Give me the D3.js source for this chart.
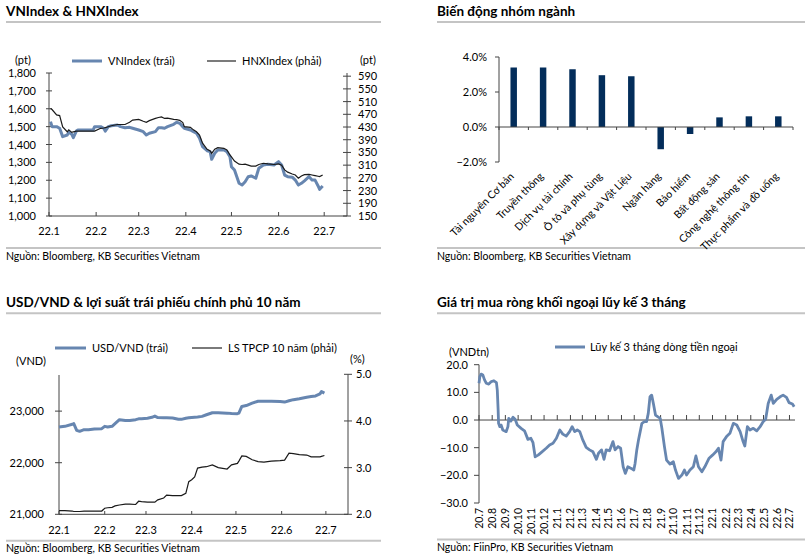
<!DOCTYPE html>
<html><head><meta charset="utf-8">
<script src="https://cdn.jsdelivr.net/npm/d3@7"></script>
<style>
body{margin:0;background:#fff;}
svg{display:block;}
</style></head><body>
<svg id="c" width="805" height="558"></svg>
<script>
// ---------- Panel 1: VNIndex & HNXIndex ----------
const idxDates = ["2022-01-02","2022-01-03","2022-01-06","2022-01-08","2022-01-10","2022-01-13","2022-01-14","2022-01-16","2022-01-17","2022-01-19","2022-01-20","2022-01-30","2022-01-31","2022-02-04","2022-02-06","2022-02-07","2022-02-09","2022-02-11","2022-02-15","2022-02-17","2022-02-20","2022-02-23","2022-02-25","2022-03-01","2022-03-04","2022-03-06","2022-03-08","2022-03-12","2022-03-14","2022-03-16","2022-03-18","2022-03-20","2022-03-24","2022-03-26","2022-03-28","2022-03-30","2022-03-31","2022-04-04","2022-04-06","2022-04-08","2022-04-10","2022-04-12","2022-04-15","2022-04-17","2022-04-18","2022-04-20","2022-04-22","2022-04-26","2022-04-28","2022-04-30","2022-05-01","2022-05-03","2022-05-06","2022-05-08","2022-05-10","2022-05-12","2022-05-14","2022-05-17","2022-05-19","2022-05-22","2022-05-25","2022-05-29","2022-06-01","2022-06-03","2022-06-05","2022-06-07","2022-06-10","2022-06-12","2022-06-14","2022-06-16","2022-06-18","2022-06-21","2022-06-23","2022-06-25","2022-06-27","2022-06-28","2022-06-30"];
const vnIndex = [1528,1500,1500,1491,1444,1453,1468,1457,1438,1475,1481,1481,1500,1500,1491,1475,1500,1505,1509,1500,1494,1496,1491,1481,1472,1453,1463,1472,1494,1494,1491,1500,1513,1524,1519,1500,1491,1481,1472,1463,1435,1388,1365,1360,1317,1351,1369,1369,1360,1332,1276,1257,1183,1173,1192,1220,1224,1211,1267,1285,1289,1285,1304,1285,1229,1220,1217,1201,1173,1183,1197,1220,1201,1201,1168,1149,1168];
const hnxIndex = [488,485,468,466,430,415,421,413,415,417,417,417,417,426,427,428,431,434,438,438,438,445,452,454,448,445,450,457,460,462,457,458,454,453,451,444,431,429,421,415,405,379,360,355,347,360,365,363,358,342,336,323,313,312,313,310,307,307,312,316,314,312,314,310,295,288,282,279,269,276,280,281,279,277,275,274,279];
const idxMonthLabels = ["22.1","22.2","22.3","22.4","22.5","22.6","22.7"];
const vnTicks = [1000,1100,1200,1300,1400,1500,1600,1700,1800];
const hnxTicks = [150,190,230,270,310,350,390,430,470,510,550,590];

// ---------- Panel 2: sector performance ----------
const sectors = ["Tài nguyên Cơ bản","Truyền thông","Dịch vụ tài chính","Ô tô và phụ tùng","Xây dựng và Vật Liệu","Ngân hàng","Bảo hiểm","Bất động sản","Công nghệ thông tin","Thực phẩm và đồ uống"];
const sectorChange = [3.4,3.4,3.3,2.96,2.9,-1.27,-0.4,0.55,0.61,0.61];
const sectorTicks = [-2,0,2,4];

// ---------- Panel 3: USD/VND & 10Y yield ----------
const fxDates = ["2022-01-01","2022-01-05","2022-01-10","2022-01-11","2022-01-13","2022-01-15","2022-01-18","2022-01-21","2022-01-25","2022-01-30","2022-02-01","2022-02-03","2022-02-06","2022-02-08","2022-02-11","2022-02-15","2022-02-18","2022-02-22","2022-02-24","2022-02-26","2022-03-02","2022-03-05","2022-03-07","2022-03-09","2022-03-13","2022-03-15","2022-03-19","2022-03-23","2022-03-25","2022-03-28","2022-03-30","2022-04-01","2022-04-03","2022-04-05","2022-04-08","2022-04-11","2022-04-15","2022-04-19","2022-04-25","2022-04-28","2022-05-02","2022-05-03","2022-05-05","2022-05-08","2022-05-12","2022-05-16","2022-05-20","2022-05-25","2022-05-31","2022-06-03","2022-06-06","2022-06-09","2022-06-13","2022-06-18","2022-06-21","2022-06-24","2022-06-27","2022-06-28","2022-06-30"];
const usdVnd = [22691,22705,22745,22757,22627,22608,22641,22641,22653,22660,22705,22691,22705,22757,22834,22820,22820,22834,22850,22853,22863,22880,22903,22875,22872,22870,22866,22842,22840,22862,22870,22878,22882,22886,22898,22930,22969,22969,22961,22955,22950,22961,23090,23108,23155,23192,23193,23190,23185,23175,23200,23222,23239,23270,23282,23295,23335,23380,23348];
const bondYield = [2.08,2.08,2.07,2.06,2.06,2.06,2.07,2.07,2.07,2.07,2.13,2.14,2.15,2.18,2.20,2.22,2.22,2.21,2.28,2.27,2.26,2.26,2.26,2.31,2.35,2.41,2.40,2.40,2.40,2.45,2.70,2.74,2.80,2.99,3.01,3.02,3.06,3.00,2.97,3.06,3.09,3.14,3.25,3.24,3.17,3.13,3.12,3.14,3.15,3.16,3.31,3.30,3.28,3.27,3.23,3.23,3.23,3.24,3.26];
const fxMonthLabels = ["22.1","22.2","22.3","22.4","22.5","22.6","22.7"];
const usdTicks = [21000,22000,23000];
const yieldTicks = [2.0,3.0,4.0,5.0];

// ---------- Panel 4: foreign net buying, 3-month cumulative ----------
const flowDates = ["2020-07-01","2020-07-03","2020-07-06","2020-07-10","2020-07-14","2020-07-18","2020-07-24","2020-07-30","2020-08-05","2020-08-11","2020-08-13","2020-08-15","2020-08-16","2020-08-19","2020-08-22","2020-08-26","2020-09-03","2020-09-07","2020-09-09","2020-09-14","2020-09-19","2020-09-24","2020-09-29","2020-10-08","2020-10-16","2020-10-24","2020-10-31","2020-11-05","2020-11-10","2020-11-17","2020-11-24","2020-12-06","2020-12-14","2020-12-22","2020-12-30","2021-01-07","2021-01-14","2021-01-22","2021-01-30","2021-02-05","2021-02-11","2021-02-17","2021-02-23","2021-03-02","2021-03-10","2021-03-18","2021-03-26","2021-04-03","2021-04-08","2021-04-15","2021-04-21","2021-04-26","2021-05-04","2021-05-12","2021-05-17","2021-05-24","2021-05-30","2021-06-05","2021-06-10","2021-06-16","2021-06-24","2021-06-30","2021-07-03","2021-07-07","2021-07-11","2021-07-15","2021-07-19","2021-07-25","2021-07-30","2021-08-03","2021-08-07","2021-08-11","2021-08-15","2021-08-20","2021-08-25","2021-08-31","2021-09-04","2021-09-10","2021-09-15","2021-09-23","2021-10-01","2021-10-06","2021-10-13","2021-10-21","2021-10-27","2021-11-01","2021-11-09","2021-11-17","2021-11-23","2021-11-29","2021-12-07","2021-12-14","2021-12-24","2022-01-01","2022-01-09","2022-01-15","2022-01-21","2022-01-26","2022-02-03","2022-02-11","2022-02-19","2022-02-27","2022-03-07","2022-03-14","2022-03-18","2022-03-24","2022-03-30","2022-04-07","2022-04-15","2022-04-23","2022-04-30","2022-05-06","2022-05-12","2022-05-19","2022-05-24","2022-06-01","2022-06-09","2022-06-16","2022-06-24","2022-06-30","2022-07-08","2022-07-12"];
const foreignFlow = [13.3,15.7,16.6,16.3,14.5,13.3,13.0,13.9,14.2,13.5,10.8,3.6,-1.2,-2.4,-1.8,-3.6,-4.2,-2.4,0.6,-0.4,1.0,0.3,-1.8,-3.0,-3.9,-7.0,-6.6,-8.2,-13.3,-12.7,-11.8,-10.2,-9.0,-8.4,-6.6,-3.6,-5.1,-5.8,-4.2,-2.4,-4.2,-3.6,-4.2,-7.2,-9.9,-10.8,-11.5,-14.2,-12.0,-10.8,-14.2,-10.8,-11.1,-7.8,-10.8,-9.6,-10.2,-16.9,-19.3,-16.9,-17.5,-18.1,-15.7,-10.8,-7.2,-4.2,-1.2,-0.6,-0.6,2.4,8.4,9.0,6.0,1.8,1.2,0.6,-3.0,-9.6,-14.5,-15.9,-15.1,-18.1,-21.1,-19.9,-18.1,-19.9,-18.1,-16.9,-13.0,-16.9,-18.7,-16.9,-13.8,-12.7,-11.5,-10.2,-14.5,-7.8,-6.0,-4.8,-1.2,-1.8,-4.2,-7.8,-9.4,-2.4,-3.6,-3.0,-3.9,-2.4,-0.6,0.3,6.0,9.0,6.0,7.5,8.4,9.0,8.2,6.3,5.8,4.8];
const flowMonthLabels = ["20.7","20.8","20.9","20.10","20.11","20.12","21.1","21.2","21.3","21.4","21.5","21.6","21.7","21.8","21.9","21.10","21.11","21.12","22.1","22.2","22.3","22.4","22.5","22.6","22.7"];
const flowTicks = [-30,-20,-10,0,10,20];

// ---------- styling ----------
const FONT = "Lato, 'Open Sans', sans-serif";
const BLUE = "#6786b0";
const NAVY = "#032d5a";
const RULE = "#c4c4c4";
const AXIS = "#444";

const svg = d3.select("#c").style("font-family", FONT);
const parseDay = d3.timeParse("%Y-%m-%d");
const parseMonth = d3.timeParse("%y.%m");

function txt(x, y, s, o = {}) {
  return svg.append("text").attr("x", x).attr("y", y).text(s)
    .attr("font-size", o.size || 10.5)
    .attr("font-weight", o.bold ? "bold" : null)
    .attr("text-anchor", o.anchor || "start")
    .attr("fill", o.fill || "#000");
}
function line(x1, y1, x2, y2, c = AXIS, w = 1) {
  svg.append("line").attr("x1", x1).attr("y1", y1).attr("x2", x2).attr("y2", y2)
    .attr("stroke", c).attr("stroke-width", w);
}
function frame(x0, x1, yTitle, yRule, yBottom, ySource, title, source) {
  txt(x0, yTitle, title, {size: 13.5, bold: true});
  line(x0, yRule, x1, yRule, RULE, 2);
  line(x0, yBottom, x1, yBottom, RULE, 2);
  txt(x0, ySource, source, {size: 10.5});
}

// ================= Panel 1 =================
frame(6, 381, 16, 22, 248, 260, "VNIndex & HNXIndex", "Nguồn: Bloomberg, KB Securities Vietnam");
{
  const x = d3.scaleTime().domain([new Date(2022,0,1), new Date(2022,6,16)]).range([49, 347]);
  const yL = d3.scaleLinear().domain([1000, 1800]).range([216, 73]);
  const yR = d3.scaleLinear().domain([150, 600]).range([216, 73]);
  const [x0, x1] = x.range();
  line(x0, 73, x0, 216); line(x1, 73, x1, 216); line(x0, 216, x1, 216);
  vnTicks.forEach(v => { line(x0 - 3, yL(v), x0 + 3, yL(v)); txt(x0 - 13, yL(v) + 4, d3.format(",")(v), {anchor: "end", size: 11}); });
  hnxTicks.forEach(v => { line(x1 - 4, yR(v), x1 + 4, yR(v)); txt(x1 + 11, yR(v) + 4, v, {size: 11}); });
  idxMonthLabels.forEach(s => { const px = x(parseMonth(s)); line(px, 212, px, 216); txt(px, 235, s, {anchor: "middle", size: 11}); });
  txt(15, 64, "(pt)", {size: 11}); txt(360, 64, "(pt)", {size: 11});
  line(72, 61, 102, 61, BLUE, 3); txt(108, 65, "VNIndex (trái)", {size: 11});
  line(207, 61, 236, 61, "#222", 1.2); txt(242, 65, "HNXIndex (phải)", {size: 11});
  const data = idxDates.map((d, i) => ({d: parseDay(d), vn: vnIndex[i], hnx: hnxIndex[i]}));
  svg.append("path").datum(data).attr("fill", "none").attr("stroke", BLUE).attr("stroke-width", 3).attr("stroke-linejoin", "round")
    .attr("d", d3.line().x(d => x(d.d)).y(d => yL(d.vn)));
  svg.append("path").datum(data).attr("fill", "none").attr("stroke", "#1a1a1a").attr("stroke-width", 1.2)
    .attr("d", d3.line().x(d => x(d.d)).y(d => yR(d.hnx)));
}

// ================= Panel 2 =================
frame(437, 805, 16, 22, 248, 259.5, "Biến động nhóm ngành", "Nguồn: Bloomberg, KB Securities Vietnam");
{
  const x = d3.scaleBand().domain(sectors).range([499, 793]).paddingInner(0.78).paddingOuter(0.39);
  const y = d3.scaleLinear().domain([-2, 4]).range([162, 57]);
  line(499, y(4), 499, y(-2));
  sectorTicks.forEach(v => { line(495, y(v), 499, y(v)); txt(487, y(v) + 4, d3.format(".1f")(v) + "%", {anchor: "end", size: 11}); });
  svg.selectAll("rect.bar").data(sectors).join("rect").attr("class", "bar")
    .attr("x", d => x(d)).attr("width", x.bandwidth())
    .attr("y", (d, i) => y(Math.max(0, sectorChange[i])))
    .attr("height", (d, i) => Math.abs(y(sectorChange[i]) - y(0)))
    .attr("fill", NAVY);
  line(499, y(0), 793, y(0));
  d3.range(sectors.length + 1).forEach(i => { const px = x.range()[0] + i * x.step(); line(px, y(0), px, y(0) + 3); });
  sectors.forEach(s => {
    const cx = x(s) + x.bandwidth() / 2 + 1;
    svg.append("text").attr("transform", `translate(${cx},${177}) rotate(-45)`)
      .attr("text-anchor", "end").attr("font-size", 10.5).text(s);
  });
}

// ================= Panel 3 =================
frame(6, 381, 306.5, 313.3, 540.7, 551.5, "USD/VND & lợi suất trái phiếu chính phủ 10 năm", "Nguồn: Bloomberg, KB Securities Vietnam");
{
  const x = d3.scaleTime().domain([new Date(2022,0,1), new Date(2022,6,16)]).range([59, 348]);
  const yL = d3.scaleLinear().domain([21000, 23700]).range([514.3, 375]);
  const yR = d3.scaleLinear().domain([2, 5]).range([514.3, 374.3]);
  const [x0, x1] = x.range();
  line(x0, 375, x0, 514.3); line(x1, 374.3, x1, 514.3); line(x0, 514.3, x1, 514.3);
  usdTicks.forEach(v => { line(x0 - 4, yL(v), x0 + 3, yL(v)); txt(x0 - 15, yL(v) + 4, d3.format(",")(v), {anchor: "end", size: 11}); });
  yieldTicks.forEach(v => { line(x1 - 4, yR(v), x1 + 4, yR(v)); txt(x1 + 8, yR(v) + 4, d3.format(".1f")(v), {size: 11}); });
  fxMonthLabels.forEach(s => { const px = x(parseMonth(s)); line(px, 511, px, 514.3); txt(px, 534, s, {anchor: "middle", size: 11}); });
  txt(16, 365, "(VND)", {size: 11}); txt(350, 363, "(%)", {size: 11});
  line(55, 348, 86, 348, BLUE, 3); txt(92, 352, "USD/VND (trái)", {size: 11});
  line(192, 348, 222, 348, "#222", 1.2); txt(228, 352, "LS TPCP 10 năm (phải)", {size: 11});
  const data = fxDates.map((d, i) => ({d: parseDay(d), u: usdVnd[i], r: bondYield[i]}));
  svg.append("path").datum(data).attr("fill", "none").attr("stroke", BLUE).attr("stroke-width", 3).attr("stroke-linejoin", "round")
    .attr("d", d3.line().x(d => x(d.d)).y(d => yL(d.u)));
  svg.append("path").datum(data).attr("fill", "none").attr("stroke", "#1a1a1a").attr("stroke-width", 1.2)
    .attr("d", d3.line().x(d => x(d.d)).y(d => yR(d.r)));
}

// ================= Panel 4 =================
frame(437, 805, 306.5, 313.3, 539.5, 550.5, "Giá trị mua ròng khối ngoại lũy kế 3 tháng", "Nguồn: FiinPro, KB Securities Vietnam");
{
  const x = d3.scaleTime().domain([new Date(2020,6,1), new Date(2022,6,14)]).range([479, 795]);
  const y = d3.scaleLinear().domain([-30, 20]).range([503, 364.7]);
  line(479, y(20), 479, y(-30));
  flowTicks.forEach(v => { line(474, y(v), 479, y(v)); txt(468, y(v) + 4, d3.format(".1f")(v), {anchor: "end", size: 11}); });
  line(479, y(0), 795, y(0));
  flowMonthLabels.forEach(s => {
    const px = x(parseMonth(s));
    line(px, y(0) - 5, px, y(0));
    svg.append("text").attr("transform", `translate(${px + 4},${508}) rotate(-90)`)
      .attr("text-anchor", "end").attr("font-size", 10.5).text(s);
  });
  txt(449, 356, "(VNDtn)", {size: 11});
  line(555, 347, 585, 347, BLUE, 3); txt(590, 351, "Lũy kế 3 tháng dòng tiền ngoại", {size: 11});
  const data = flowDates.map((d, i) => ({d: parseDay(d), v: foreignFlow[i]}));
  svg.append("path").datum(data).attr("fill", "none").attr("stroke", BLUE).attr("stroke-width", 2.8).attr("stroke-linejoin", "round")
    .attr("d", d3.line().x(d => x(d.d)).y(d => y(d.v)));
}
</script>
</body></html>
